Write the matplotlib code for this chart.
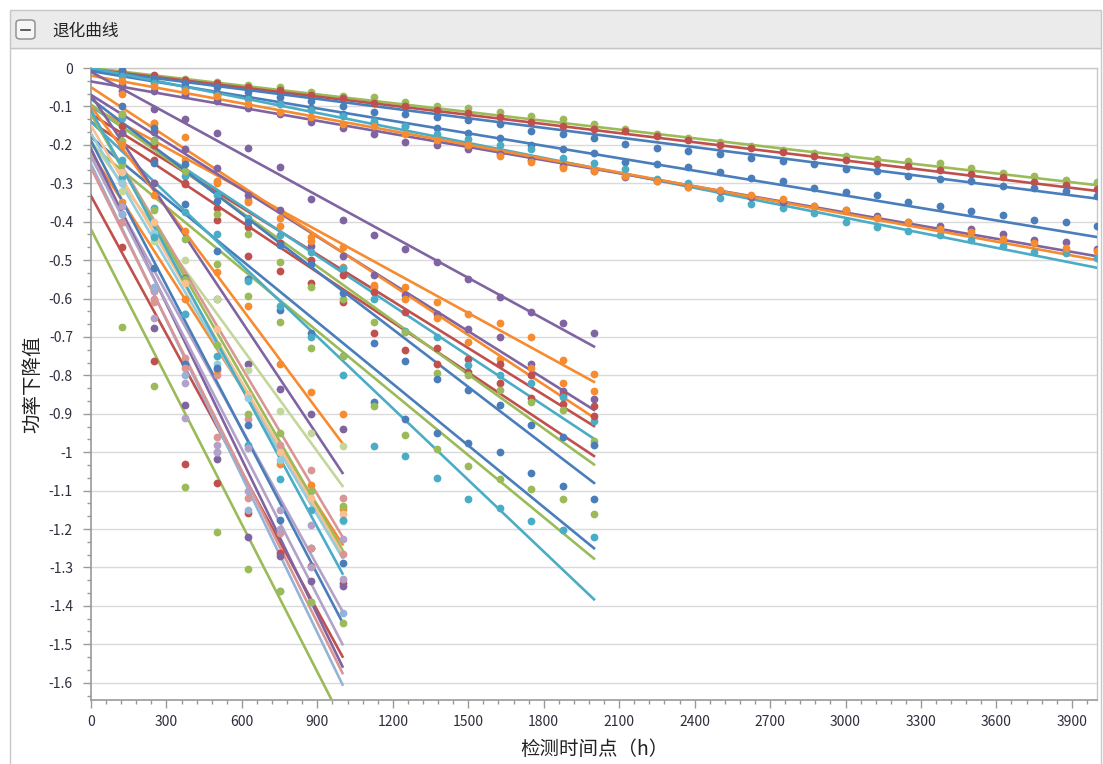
#!/usr/bin/env python3
# -*- coding: utf-8 -*-

import numpy as np
import matplotlib
matplotlib.use('Agg')
from matplotlib import pyplot as plt
from matplotlib.patches import Rectangle, FancyBboxPatch
from matplotlib.ticker import MultipleLocator

plt.rcParams['font.family'] = ['Noto Sans CJK SC', 'DejaVu Sans']

# --- colours (office palette) ---
BLUE = '#4A7EBB'
ORANGE = '#F68B30'
RED = '#C0504D'
GREEN = '#9BBB59'
PURPLE = '#8064A2'
TEAL = '#4BACC6'
L_RED = '#D99694'
L_GREEN = '#C3D69B'
L_PURPLE = '#B3A2C7'
L_BLUE = '#95B3D7'
L_TEAL = '#93CDDD'
L_ORANGE = '#FAC090'

# --- detection times ---
t_long = [125, 250, 375, 500, 625, 750, 875, 1000, 1125, 1250, 1375, 1500, 1625, 1750, 1875, 2000,
          2125, 2250, 2375, 2500, 2625, 2750, 2875, 3000, 3125, 3250, 3375, 3500, 3625, 3750, 3875, 4000]
t_mid = t_long[:16]
t_short = t_long[:8]

# --- long tests (0-4000 h) ---
long_colors = [GREEN, RED, BLUE, BLUE, TEAL, PURPLE, ORANGE]
long_fit_start = [0.0, -0.003, -0.005, -0.008, 0.0, -0.035, -0.02]
long_fit_end = [-0.305, -0.32, -0.34, -0.44, -0.52, -0.49, -0.50]
long_green = [-0.010, -0.020, -0.029, -0.037, -0.043, -0.050, -0.063, -0.072, -0.076, -0.089, -0.100, -0.104, -0.115, -0.124, -0.133, -0.145,
              -0.160, -0.172, -0.182, -0.192, -0.202, -0.213, -0.222, -0.230, -0.238, -0.242, -0.248, -0.259, -0.272, -0.282, -0.292, -0.298]
long_red = [-0.005, -0.018, -0.030, -0.038, -0.050, -0.058, -0.070, -0.078, -0.090, -0.098, -0.110, -0.118, -0.128, -0.140, -0.150, -0.158,
            -0.165, -0.178, -0.187, -0.200, -0.208, -0.219, -0.230, -0.240, -0.250, -0.256, -0.265, -0.275, -0.283, -0.298, -0.305, -0.315]
long_blue1 = [-0.008, -0.025, -0.040, -0.050, -0.062, -0.075, -0.085, -0.098, -0.115, -0.121, -0.127, -0.135, -0.145, -0.163, -0.173, -0.183,
              -0.198, -0.208, -0.217, -0.224, -0.234, -0.241, -0.250, -0.262, -0.269, -0.282, -0.290, -0.295, -0.308, -0.312, -0.320, -0.333]
long_blue2 = [-0.015, -0.035, -0.050, -0.065, -0.075, -0.090, -0.105, -0.120, -0.142, -0.150, -0.155, -0.168, -0.183, -0.200, -0.210, -0.222,
              -0.245, -0.250, -0.258, -0.270, -0.286, -0.295, -0.313, -0.323, -0.330, -0.350, -0.360, -0.372, -0.382, -0.395, -0.400, -0.410]
long_teal = [-0.020, -0.040, -0.055, -0.070, -0.080, -0.095, -0.110, -0.125, -0.137, -0.150, -0.172, -0.185, -0.200, -0.210, -0.235, -0.248,
             -0.263, -0.290, -0.300, -0.339, -0.354, -0.364, -0.378, -0.401, -0.415, -0.424, -0.435, -0.448, -0.464, -0.478, -0.482, -0.495]
long_purple = [-0.045, -0.060, -0.070, -0.085, -0.105, -0.120, -0.140, -0.155, -0.172, -0.193, -0.200, -0.210, -0.225, -0.240, -0.255, -0.268,
               -0.285, -0.295, -0.310, -0.320, -0.335, -0.348, -0.360, -0.370, -0.385, -0.400, -0.410, -0.418, -0.432, -0.447, -0.453, -0.470]
long_orange = [-0.033, -0.046, -0.059, -0.072, -0.094, -0.115, -0.128, -0.146, -0.150, -0.172, -0.188, -0.200, -0.228, -0.245, -0.260, -0.268,
               -0.280, -0.295, -0.310, -0.318, -0.330, -0.340, -0.360, -0.370, -0.390, -0.400, -0.418, -0.427, -0.445, -0.455, -0.468, -0.476]
long_points = [long_green, long_red, long_blue1, long_blue2, long_teal, long_purple, long_orange]

# --- medium tests (0-2000 h) ---
mid_colors = [PURPLE, ORANGE, PURPLE, ORANGE, RED, TEAL, RED, GREEN, BLUE, BLUE, GREEN, TEAL]
mid_fit_start = [-0.01, -0.10, -0.07, -0.05, -0.12, -0.10, -0.14, -0.095, -0.08, -0.18, -0.20, -0.14]
mid_fit_end = [-0.725, -0.817, -0.89, -0.91, -0.932, -0.965, -1.01, -1.032, -1.08, -1.25, -1.277, -1.383]
mid_points = [
    [-0.06, -0.107, -0.133, -0.168, -0.209, -0.257, -0.34, -0.395, -0.434, -0.47, -0.506, -0.55, -0.596, -0.636, -0.665, -0.691],
    [-0.12, -0.142, -0.18, -0.294, -0.343, -0.41, -0.44, -0.465, -0.565, -0.57, -0.608, -0.641, -0.665, -0.70, -0.761, -0.797],
    [-0.124, -0.167, -0.21, -0.26, -0.33, -0.37, -0.463, -0.49, -0.54, -0.59, -0.64, -0.68, -0.70, -0.77, -0.84, -0.861],
    [-0.068, -0.142, -0.24, -0.30, -0.35, -0.39, -0.45, -0.518, -0.57, -0.60, -0.65, -0.713, -0.757, -0.78, -0.821, -0.841],
    [-0.15, -0.20, -0.302, -0.365, -0.413, -0.455, -0.50, -0.54, -0.583, -0.635, -0.73, -0.757, -0.77, -0.80, -0.85, -0.88],
    [-0.13, -0.188, -0.28, -0.33, -0.39, -0.435, -0.48, -0.52, -0.60, -0.684, -0.70, -0.774, -0.80, -0.82, -0.857, -0.919],
    [-0.17, -0.24, -0.30, -0.396, -0.489, -0.528, -0.56, -0.61, -0.69, -0.735, -0.77, -0.79, -0.82, -0.86, -0.874, -0.906],
    [-0.12, -0.19, -0.268, -0.38, -0.433, -0.504, -0.571, -0.60, -0.661, -0.686, -0.793, -0.80, -0.837, -0.87, -0.89, -0.971],
    [-0.10, -0.156, -0.25, -0.345, -0.40, -0.46, -0.51, -0.585, -0.717, -0.763, -0.81, -0.837, -0.876, -0.928, -0.96, -0.982],
    [-0.20, -0.246, -0.354, -0.476, -0.55, -0.63, -0.69, -0.75, -0.87, -0.913, -0.951, -0.977, -1.00, -1.054, -1.087, -1.123],
    [-0.189, -0.30, -0.446, -0.51, -0.593, -0.66, -0.73, -0.75, -0.88, -0.956, -0.991, -1.035, -1.07, -1.097, -1.123, -1.162],
    [-0.285, -0.365, -0.376, -0.433, -0.554, -0.62, -0.70, -0.80, -0.984, -1.01, -1.068, -1.121, -1.145, -1.18, -1.203, -1.22],
]

# --- short tests (0-1000 h) ---
short_colors = [ORANGE, PURPLE, L_GREEN, L_RED, ORANGE, GREEN, L_ORANGE, L_TEAL, TEAL,
                L_PURPLE, BLUE, RED, PURPLE, L_BLUE, GREEN, L_RED, L_PURPLE]
short_fit_start = [-0.10, -0.07, -0.19, -0.12, -0.22, -0.12, -0.15, -0.17, -0.11,
                   -0.23, -0.19, -0.333, -0.21, -0.25, -0.42, -0.26, -0.23]
short_fit_end = [-0.977, -1.054, -1.088, -1.22, -1.24, -1.255, -1.265, -1.275, -1.316,
                 -1.414, -1.443, -1.532, -1.558, -1.605, -1.70, -1.575, -1.50]
short_points = [
    [-0.20, -0.33, -0.424, -0.53, -0.62, -0.77, -0.843, -0.90],
    [-0.17, -0.30, -0.547, -0.60, -0.771, -0.835, -0.90, -0.94],
    [-0.32, -0.45, -0.50, -0.60, -0.786, -0.893, -0.95, -0.984],
    [-0.30, -0.61, -0.754, -0.80, -0.914, -0.98, -1.047, -1.12],
    [-0.35, -0.58, -0.60, -0.786, -0.85, -1.03, -1.085, -1.149],
    [-0.25, -0.37, -0.55, -0.72, -0.90, -0.95, -1.10, -1.14],
    [-0.27, -0.40, -0.56, -0.68, -0.85, -1.00, -1.12, -1.16],
    [-0.30, -0.43, -0.64, -0.77, -0.86, -1.02, -1.15, -1.18],
    [-0.24, -0.44, -0.64, -0.75, -0.982, -1.071, -1.15, -1.177],
    [-0.38, -0.58, -0.91, -0.98, -0.99, -1.15, -1.19, -1.227],
    [-0.36, -0.52, -0.77, -0.78, -0.93, -1.177, -1.249, -1.288],
    [-0.467, -0.763, -1.032, -1.081, -1.158, -1.262, -1.297, -1.34],
    [-0.40, -0.676, -0.876, -1.017, -1.22, -1.27, -1.336, -1.349],
    [-0.38, -0.57, -0.80, -1.00, -1.15, -1.36, -1.39, -1.418],
    [-0.675, -0.828, -1.09, -1.208, -1.304, -1.36, -1.39, -1.444],
    [-0.40, -0.60, -0.78, -0.96, -1.12, -1.21, -1.25, -1.264],
    [-0.36, -0.65, -0.82, -1.00, -1.10, -1.20, -1.30, -1.33],
]

x_ticks = [0, 300, 600, 900, 1200, 1500, 1800, 2100, 2400, 2700, 3000, 3300, 3600, 3900]
y_ticks = [0, -0.1, -0.2, -0.3, -0.4, -0.5, -0.6, -0.7, -0.8, -0.9, -1.0,
           -1.1, -1.2, -1.3, -1.4, -1.5, -1.6]
y_labels = ['0', '-0.1', '-0.2', '-0.3', '-0.4', '-0.5', '-0.6', '-0.7', '-0.8', '-0.9', '-1',
            '-1.1', '-1.2', '-1.3', '-1.4', '-1.5', '-1.6']


def main():
	W, H = 1103, 764
	fig = plt.figure(figsize=(W / 100, H / 100), dpi=100)
	fig.patch.set_facecolor('white')

	# panel frame + header (kept under the axes)
	fig.patches.append(Rectangle((10 / W, -0.01), 1091 / W, 1.01 - 48 / H, transform=fig.transFigure,
	                             facecolor='none', edgecolor='#C8C8C8', lw=1, zorder=-5))
	fig.patches.append(Rectangle((10 / W, 1 - 48 / H), 1091 / W, 38 / H, transform=fig.transFigure,
	                             facecolor='#EBEBEB', edgecolor='#C6C6C6', lw=1, zorder=-5))
	fig.patches.append(FancyBboxPatch((16 / W, 1 - 39 / H), 19 / W, 19 / H, transform=fig.transFigure,
	                                  boxstyle='round,pad=0,rounding_size=0.004',
	                                  facecolor='#F6F6F6', edgecolor='#8A8A8A', lw=1, zorder=-4))
	fig.lines.append(plt.Line2D([21 / W, 30 / W], [1 - 29.5 / H, 1 - 29.5 / H], transform=fig.transFigure,
	                            color='#444444', lw=1.2, zorder=-3))
	fig.text(52 / W, 1 - 31 / H, '退化曲线', fontsize=12, color='#222222', va='center', ha='left')

	ax = fig.add_axes([91 / W, 1 - 700 / H, 1006 / W, 632 / H])

	# long series
	for i in range(len(long_points)):
		ax.plot([0, 4000], [long_fit_start[i], long_fit_end[i]], color=long_colors[i], lw=1.9, zorder=3)
		ax.plot(t_long, long_points[i], 'o', color=long_colors[i], ms=5.6, mew=0, zorder=4)
	# medium series
	for i in range(len(mid_points)):
		ax.plot([0, 2000], [mid_fit_start[i], mid_fit_end[i]], color=mid_colors[i], lw=1.9, zorder=3)
		ax.plot(t_mid, mid_points[i], 'o', color=mid_colors[i], ms=5.6, mew=0, zorder=4)
	# short series
	for i in range(len(short_points)):
		ax.plot([0, 1000], [short_fit_start[i], short_fit_end[i]], color=short_colors[i], lw=1.9, zorder=3)
		ax.plot(t_short, short_points[i], 'o', color=short_colors[i], ms=5.6, mew=0, zorder=4)

	ax.set_xlim(0, 4000)
	ax.set_ylim(-1.645, 0)

	ax.set_xticks(x_ticks)
	ax.set_xticklabels([str(v) for v in x_ticks])
	ax.xaxis.set_minor_locator(MultipleLocator(60))
	ax.set_yticks(y_ticks)
	ax.set_yticklabels(y_labels)
	ax.yaxis.set_minor_locator(MultipleLocator(0.1 / 3))

	ax.grid(axis='y', which='major', color='#DADADA', lw=1)
	ax.set_axisbelow(True)
	ax.tick_params(axis='both', which='major', length=6, width=1, color='#999999',
	               labelsize=10, labelcolor='#2E2E3E')
	ax.tick_params(axis='both', which='minor', length=3, width=1, color='#999999')
	ax.tick_params(axis='y', pad=7)
	ax.tick_params(axis='x', pad=5)

	for s in ['left', 'bottom']:
		ax.spines[s].set_color('#9A9A9A')
		ax.spines[s].set_linewidth(1.2)
	for s in ['top', 'right']:
		ax.spines[s].set_color('#C8C8C8')
		ax.spines[s].set_linewidth(1)

	ax.set_ylabel('功率下降值', fontsize=14, color='#222222', labelpad=4)
	ax.set_xlabel('检测时间点（h）', fontsize=14, color='#222222', labelpad=7)

	fig.savefig('out.png', dpi=100)


if __name__ == "__main__":
	main()
